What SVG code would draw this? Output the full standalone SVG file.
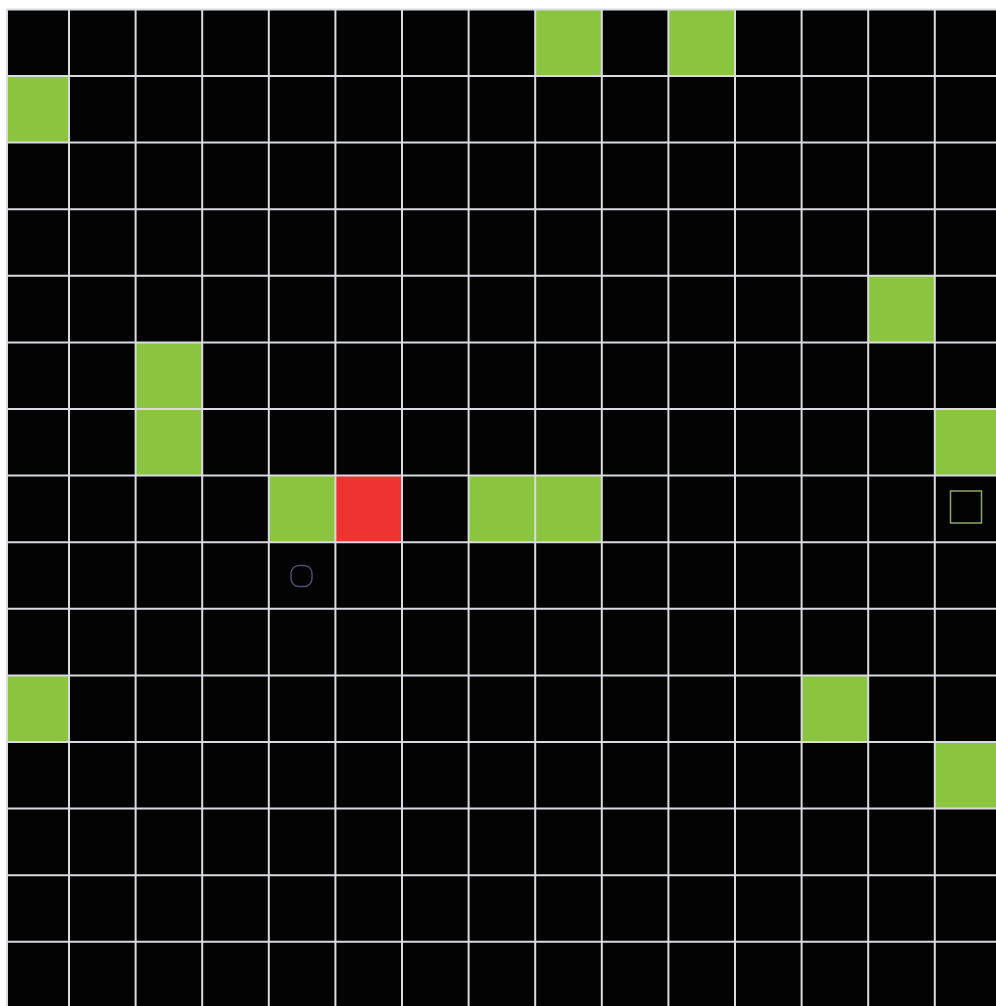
<svg xmlns="http://www.w3.org/2000/svg" width="996" height="1006" viewBox="0 0 996 1006">
<style>
.g{fill:#8bc53f}
.r{fill:#ee3330}
.ln{stroke:#dadbe2;stroke-width:2;fill:none}
</style>
<rect width="996" height="1006" fill="#ffffff"/>
<rect x="7" y="9" width="989" height="997" fill="#030303"/>
<g id="cells">
<rect class="g" x="535.2" y="9.4" width="66.6" height="66.6"/>
<rect class="g" x="668.4" y="9.4" width="66.6" height="66.6"/>
<rect class="g" x="7" y="76" width="62" height="66.6"/>
<rect class="g" x="868.2" y="275.8" width="66.6" height="66.6"/>
<rect class="g" x="135.6" y="342.4" width="66.6" height="66.6"/>
<rect class="g" x="135.6" y="409" width="66.6" height="66.6"/>
<rect class="g" x="934.8" y="409" width="61.2" height="66.6"/>
<rect class="g" x="268.8" y="475.6" width="66.6" height="66.6"/>
<rect class="r" x="335.4" y="475.6" width="66.6" height="66.6"/>
<rect class="g" x="468.6" y="475.6" width="66.6" height="66.6"/>
<rect class="g" x="535.2" y="475.6" width="66.6" height="66.6"/>
<rect class="g" x="7" y="675.4" width="62" height="66.6"/>
<rect class="g" x="801.6" y="675.4" width="66.6" height="66.6"/>
<rect class="g" x="934.8" y="742" width="61.2" height="66.6"/>
</g>
<g id="grid" class="ln">
<path d="M7,9V1006"/>
<path d="M69,9V1006M135.6,9V1006M202.2,9V1006M268.8,9V1006M335.4,9V1006M402,9V1006M468.6,9V1006M535.2,9V1006M601.8,9V1006M668.4,9V1006M735,9V1006M801.6,9V1006M868.2,9V1006M934.8,9V1006"/>
<path d="M7,9.4H996M7,76H996M7,142.6H996M7,209.2H996M7,275.8H996M7,342.4H996M7,409H996M7,475.6H996M7,542.2H996M7,608.8H996M7,675.4H996M7,742H996M7,808.6H996M7,875.2H996M7,941.8H996"/>
</g>
<g id="marker-square">
<rect x="950.5" y="491" width="31" height="32" fill="none" stroke="#8aa86a" stroke-width="1.5"/>
</g>
<g id="marker-circle">
<rect x="291" y="565.5" width="21" height="21" rx="8" fill="none" stroke="#4a4e72" stroke-width="1.5"/>
</g>
</svg>
